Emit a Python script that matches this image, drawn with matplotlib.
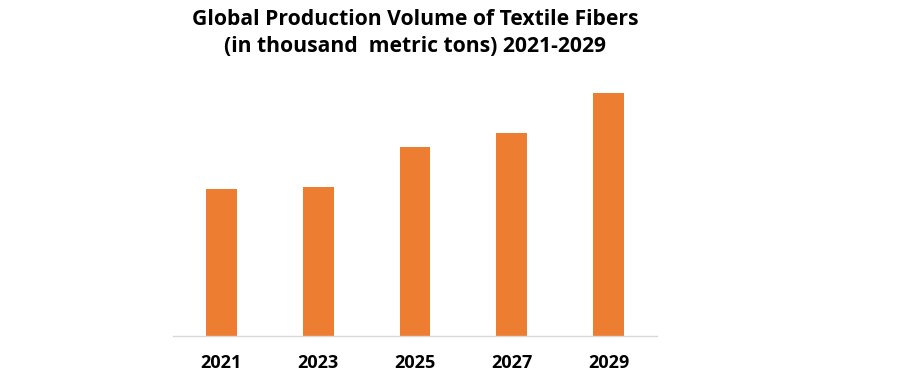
import matplotlib
matplotlib.use("Agg")
import matplotlib.pyplot as plt

years = ["2021", "2023", "2025", "2027", "2029"]
volumes = [147, 149, 189, 203, 243]

fig = plt.figure(figsize=(9.22, 3.74), dpi=100)
W, H = 922, 374
left, right, bottom, top = 173, 657, 336, 80
ax = fig.add_axes([left / W, 1 - bottom / H, (right - left) / W, (bottom - top) / H])

x = range(len(years))
ax.bar(x, volumes, width=0.32, color="#ED7D31", zorder=2)
ax.set_xlim(-0.5, len(years) - 0.5)
ax.set_ylim(0, 256)
ax.set_yticks([])
ax.set_xticks(list(x))
ax.set_xticklabels(years, fontsize=13, fontweight="bold", family=["Open Sans", "DejaVu Sans"])
ax.tick_params(axis="x", length=0, pad=13)
for s in ["top", "right", "left"]:
    ax.spines[s].set_visible(False)
ax.spines["bottom"].set_color("#D9D9D9")
ax.spines["bottom"].set_linewidth(1)

fig.text(415 / W, 1 - 33 / H, "Global Production Volume of Textile Fibers\n(in thousand  metric tons) 2021-2029",
         ha="center", va="center", fontsize=15.2, fontweight="bold",
         family=["Open Sans", "DejaVu Sans"], linespacing=1.4)

fig.savefig("out.png", dpi=100, facecolor="white")
